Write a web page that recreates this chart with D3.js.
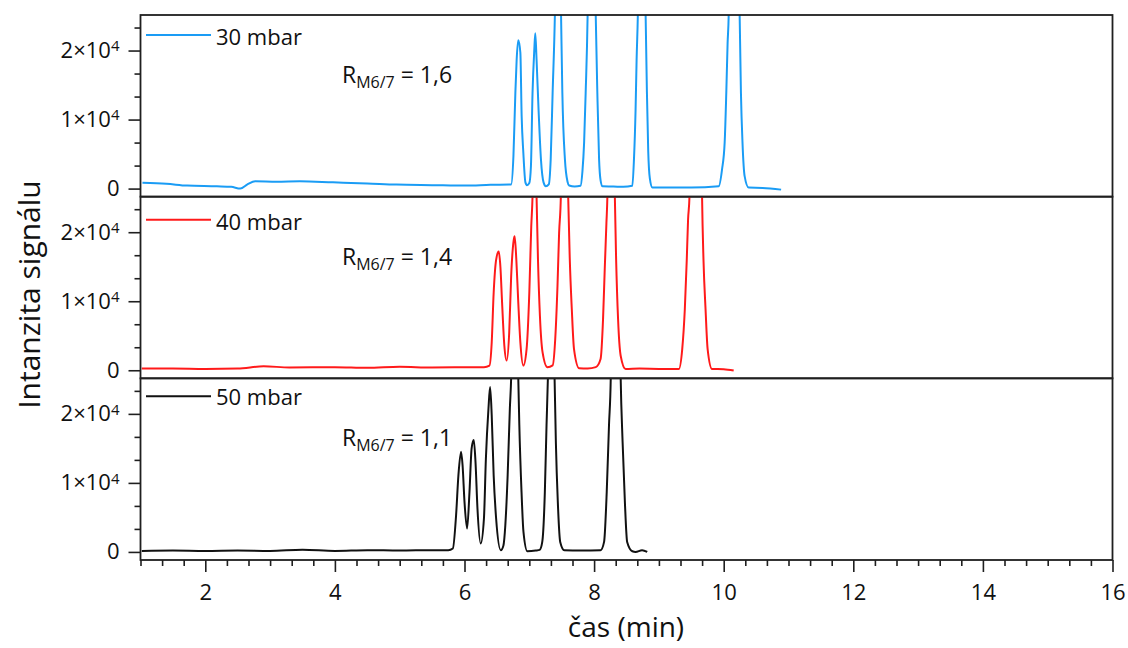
<!DOCTYPE html>
<html>
<head>
<meta charset="utf-8">
<script src="https://cdn.jsdelivr.net/npm/d3@7"></script>
<style>
  body { margin: 0; background: #fff; }
  text { font-family: "Open Sans", sans-serif; fill: #111; }
</style>
</head>
<body>
<svg id="chart" width="1128" height="648"></svg>
<script>
// Chromatograms recorded at three inlet pressures: [time (min), signal]
const pressureLabels = ["30 mbar", "40 mbar", "50 mbar"];
const resolutionValues = ["1,6", "1,4", "1,1"];

const trace30 = [
  [1.03, 830], [1.4, 700], [1.72, 430], [2.18, 330], [2.4, 250], [2.54, 0], [2.65, 600],
  [2.77, 1060], [3.1, 1000], [3.46, 1060], [3.97, 910], [4.5, 750], [4.95, 580], [5.5, 500],
  [6.03, 430], [6.4, 550], [6.69, 580],
  [6.72, 600], [6.755, 4680], [6.785, 13900], [6.805, 18700], [6.83, 21500], [6.862, 19700],
  [6.882, 10500], [6.908, 5200], [6.94, 900], [6.964, 500],
  [7.0, 800], [7.025, 3200], [7.05, 13900], [7.077, 20100], [7.092, 22500], [7.112, 18700],
  [7.143, 11400], [7.18, 4200], [7.22, 900], [7.256, 330],
  [7.3, 600], [7.33, 4200], [7.36, 13900], [7.395, 25200], [7.418, 38000], [7.443, 45000],
  [7.468, 38000], [7.49, 25200], [7.51, 13900], [7.55, 4200], [7.59, 1000], [7.615, 450], [7.7, 300],
  [7.79, 400], [7.82, 2500], [7.846, 6700], [7.87, 13900], [7.9, 25200], [7.93, 50000],
  [7.96, 62000], [7.99, 50000], [8.025, 25200], [8.05, 13900], [8.077, 4200], [8.1, 1200],
  [8.13, 330], [8.3, 300], [8.45, 250],
  [8.59, 400], [8.615, 4200], [8.64, 11400], [8.656, 18700], [8.675, 25200], [8.705, 48000],
  [8.735, 58000], [8.765, 48000], [8.795, 25200], [8.815, 14000], [8.835, 5500], [8.86, 1500],
  [8.9, 150], [9.0, 150], [9.5, 150], [9.923, 330],
  [9.974, 2750], [10.015, 6700], [10.04, 13900], [10.06, 21000], [10.077, 25200], [10.12, 70000],
  [10.16, 85000], [10.2, 70000], [10.246, 25200], [10.266, 13900], [10.29, 6700], [10.323, 1800],
  [10.385, 150], [10.6, 100], [10.886, -150]
];

const trace40 = [
  [1.02, 240], [1.5, 250], [2.0, 200], [2.5, 250], [2.9, 580], [3.3, 400], [4.0, 450],
  [4.5, 350], [5.0, 500], [5.5, 400], [6.0, 430], [6.3, 450], [6.385, 680],
  [6.42, 4030], [6.45, 11200], [6.488, 16000], [6.528, 17200], [6.554, 15000], [6.58, 9800],
  [6.615, 3550], [6.65, 1400],
  [6.69, 5470], [6.72, 13600], [6.76, 18900], [6.774, 19400], [6.8, 16000], [6.83, 9800],
  [6.862, 4030], [6.908, 680],
  [6.958, 3070], [7.0, 11200], [7.03, 20800], [7.05, 25200], [7.065, 32000], [7.08, 35000],
  [7.095, 32000], [7.112, 25200], [7.134, 16000], [7.164, 7870], [7.205, 2590], [7.28, 430],
  [7.36, 700], [7.4, 4500], [7.435, 12200], [7.46, 19900], [7.487, 25200], [7.515, 45000],
  [7.542, 52000], [7.57, 45000], [7.6, 25200], [7.625, 16000], [7.656, 8830], [7.69, 3070],
  [7.77, 290], [7.9, 250], [8.026, 450],
  [8.1, 1630], [8.138, 7380], [8.164, 14600], [8.19, 21300], [8.205, 25200], [8.235, 50000],
  [8.262, 58000], [8.29, 50000], [8.32, 25200], [8.34, 16000], [8.37, 7380], [8.41, 2110],
  [8.486, 190], [8.7, 250], [9.0, 200], [9.308, 190],
  [9.36, 3070], [9.4, 8830], [9.43, 16000], [9.45, 21800], [9.472, 25200], [9.52, 75000],
  [9.57, 90000], [9.62, 75000], [9.666, 25200], [9.688, 16000], [9.72, 8830], [9.752, 3070],
  [9.82, 190], [10.0, 150], [10.154, -50]
];

const trace50 = [
  [1.02, 150], [1.5, 200], [2.0, 150], [2.5, 200], [3.0, 150], [3.5, 300], [4.0, 150],
  [4.5, 250], [5.0, 200], [5.5, 250], [5.75, 250], [5.82, 490],
  [5.87, 5300], [5.906, 11100], [5.947, 14500], [5.97, 12600], [6.0, 7250], [6.04, 3390],
  [6.077, 8700], [6.11, 15000], [6.143, 16200], [6.17, 13000], [6.2, 6300], [6.25, 1220],
  [6.3, 4840], [6.33, 13500], [6.37, 20800], [6.395, 23900], [6.42, 19800], [6.45, 11100],
  [6.488, 4840], [6.56, 250],
  [6.6, 900], [6.63, 3870], [6.666, 11100], [6.7, 20800], [6.72, 25200], [6.75, 40000],
  [6.775, 45000], [6.8, 40000], [6.83, 25200], [6.846, 18400], [6.88, 8700], [6.91, 2900],
  [6.97, 100], [7.1, 200], [7.16, 300],
  [7.2, 1450], [7.24, 8700], [7.266, 18400], [7.287, 25200], [7.315, 40000], [7.34, 45000],
  [7.365, 40000], [7.39, 25200], [7.41, 15900], [7.44, 7250], [7.477, 1450], [7.54, 250],
  [7.8, 200], [8.1, 250],
  [8.154, 1450], [8.195, 8700], [8.23, 18400], [8.257, 25200], [8.29, 55000], [8.33, 65000],
  [8.37, 55000], [8.41, 25200], [8.44, 15900], [8.475, 7250], [8.51, 1450], [8.59, 100],
  [8.64, 0], [8.74, 250], [8.82, 0]
];

const xMajorTicks = [2, 4, 6, 8, 10, 12, 14, 16];
const yMajorTicks = [0, 10000, 20000];

// ---- layout ----
const traces = [trace30, trace40, trace50];
const colors = ["#1a9cf5", "#ff1a1a", "#111111"];
const legendLineY = [20, 23, 18];      // offsets of legend line from panel top
const legendTextY = [30, 33, 27];      // baseline offsets of legend text
const plotLeft = 140.5, plotRight = 1112.5, plotTop = 15, plotBottom = 560;
const panelH = (plotBottom - plotTop) / traces.length;

const svg = d3.select("#chart");
const x = d3.scaleLinear().domain([1, 16]).range([plotLeft, plotRight]);
const yDomain = [-1170, 25150];
const yMinorTicks = d3.range(1, 8).map(k => k * 10000 / 3).filter(v => v % 10000 > 1 && v < yDomain[1]);
const xMinorTicks = d3.range(3, 49).map(k => k / 3).filter(v => !xMajorTicks.some(m => Math.abs(m - v) < 1e-6));

const frameColor = "#1f1f1f";
const fontStack = '"Open Sans", sans-serif';

traces.forEach((trace, i) => {
  const top = plotTop + i * panelH;
  const y = d3.scaleLinear().domain(yDomain).range([top + panelH, top]);

  const clipId = "clip" + i;
  svg.append("clipPath").attr("id", clipId)
    .append("rect").attr("x", plotLeft).attr("y", top).attr("width", plotRight - plotLeft).attr("height", panelH);

  const line = d3.line().x(d => x(d[0])).y(d => y(d[1])).curve(d3.curveMonotoneX);
  svg.append("path").datum(trace)
    .attr("clip-path", `url(#${clipId})`)
    .attr("fill", "none").attr("stroke", colors[i]).attr("stroke-width", 2)
    .attr("stroke-linejoin", "round")
    .attr("d", line);

  // minor y ticks
  const gMinor = svg.append("g").attr("transform", `translate(${plotLeft},0)`)
    .call(d3.axisLeft(y).tickValues(yMinorTicks).tickSize(6).tickFormat(""));
  // major y ticks
  const gMajor = svg.append("g").attr("transform", `translate(${plotLeft},0)`)
    .call(d3.axisLeft(y).tickValues(yMajorTicks).tickSize(12).tickPadding(9));
  [gMinor, gMajor].forEach(g => {
    g.select(".domain").remove();
    g.selectAll(".tick line").attr("stroke", frameColor).attr("stroke-width", 1.6);
  });
  gMajor.selectAll(".tick text")
    .attr("font-size", 22).attr("fill", "#111").style("font-family", fontStack)
    .each(function (d) {
      const t = d3.select(this);
      t.text(null);
      if (d === 0) { t.text("0"); return; }
      const exp = Math.floor(Math.log10(d));
      const mant = d / Math.pow(10, exp);
      t.append("tspan").text(mant + "\u00d710");
      t.append("tspan").attr("dy", "-0.45em").attr("font-size", 15).text(exp);
    });

  // panel frame
  svg.append("rect").attr("x", plotLeft).attr("y", top)
    .attr("width", plotRight - plotLeft).attr("height", panelH)
    .attr("fill", "none").attr("stroke", frameColor).attr("stroke-width", 1.8);

  // legend
  svg.append("line").attr("x1", 146).attr("x2", 211)
    .attr("y1", top + legendLineY[i]).attr("y2", top + legendLineY[i])
    .attr("stroke", colors[i]).attr("stroke-width", 2);
  svg.append("text").attr("x", 216).attr("y", top + legendTextY[i])
    .attr("font-size", 22).text(pressureLabels[i]);

  // resolution annotation
  const ann = svg.append("text").attr("x", 342).attr("y", top + 68).attr("font-size", 23);
  ann.append("tspan").text("R");
  ann.append("tspan").attr("dy", 5).attr("font-size", 16).text("M6/7");
  ann.append("tspan").attr("dy", -5).text(" = " + resolutionValues[i]);
});

// bottom time axis
const gxMinor = svg.append("g").attr("transform", `translate(0,${plotBottom})`)
  .call(d3.axisBottom(x).tickValues(xMinorTicks).tickSize(6).tickFormat(""));
const gxMajor = svg.append("g").attr("transform", `translate(0,${plotBottom})`)
  .call(d3.axisBottom(x).tickValues(xMajorTicks).tickSize(12).tickPadding(12).tickFormat(d3.format("d")));
[gxMinor, gxMajor].forEach(g => {
  g.select(".domain").remove();
  g.selectAll(".tick line").attr("stroke", frameColor).attr("stroke-width", 1.6);
});
gxMajor.selectAll(".tick text").attr("font-size", 22).attr("fill", "#111")
  .style("font-family", fontStack);

// axis titles
svg.append("text").attr("x", 626).attr("y", 637)
  .attr("text-anchor", "middle").attr("font-size", 28).text("čas (min)");
svg.append("text").attr("transform", `translate(40,${(plotTop + plotBottom) / 2 + 7}) rotate(-90)`)
  .attr("text-anchor", "middle").attr("font-size", 30).text("Intanzita signálu");
</script>
</body>
</html>
